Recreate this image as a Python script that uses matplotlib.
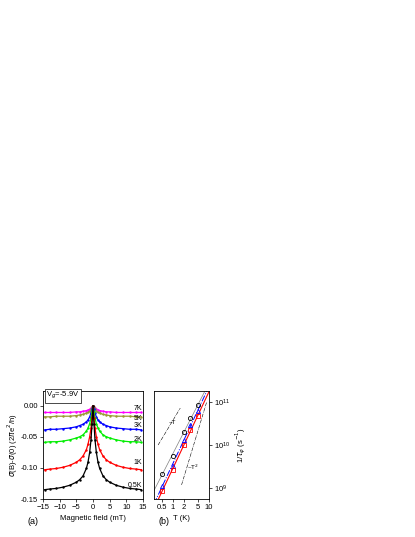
import numpy as np
import matplotlib
matplotlib.use("Agg")
import matplotlib.pyplot as plt
plt.rcParams['font.family'] = ['Liberation Sans', 'DejaVu Sans']
plt.rcParams['font.size'] = 5.5

B_half = [0, 0.3, 0.6, 1, 1.5, 2, 3, 4, 5, 7, 9, 11, 13, 14.5]
curves = {
    '7K':   ([0, -0.002, -0.004, -0.006, -0.007, -0.008, -0.009, -0.010, -0.010, -0.011, -0.011, -0.011, -0.011, -0.011], '#ff00ff'),
    '5K':   ([0, -0.003, -0.006, -0.009, -0.011, -0.012, -0.014, -0.015, -0.016, -0.017, -0.017, -0.017, -0.018, -0.018], '#999933'),
    '3K':   ([0, -0.006, -0.012, -0.018, -0.023, -0.026, -0.030, -0.032, -0.034, -0.036, -0.037, -0.038, -0.038, -0.039], '#0000ff'),
    '2K':   ([0, -0.010, -0.020, -0.029, -0.036, -0.041, -0.047, -0.050, -0.052, -0.055, -0.057, -0.058, -0.058, -0.059], '#00ee00'),
    '1K':   ([0, -0.020, -0.036, -0.050, -0.062, -0.071, -0.081, -0.087, -0.091, -0.096, -0.099, -0.101, -0.102, -0.103], '#ff0000'),
    '0.5K': ([0, -0.030, -0.055, -0.075, -0.091, -0.101, -0.113, -0.119, -0.123, -0.128, -0.131, -0.133, -0.134, -0.135], '#000000'),
}
label_y = {'7K': -0.004, '5K': -0.020, '3K': -0.032, '2K': -0.054, '1K': -0.091, '0.5K': -0.128}

T = [0.5, 1, 2, 3, 5]
rate_black = [10**9.33, 10**9.74, 10**10.31, 10**10.62, 10**10.93]
rate_blue = [10**9.05, 10**9.51, 10**10.12, 10**10.47, 10**10.80]
rate_red = [10**8.93, 10**9.42, 10**10.0, 10**10.35, 10**10.68]
guide_T_x = [0.39, 1.6]
guide_T_y = [10**10.0, 10**10.86]
guide_T2_x = [1.74, 8.6]
guide_T2_y = [10**9.07, 10**11.0]

fig = plt.figure(figsize=(4.15, 5.37), dpi=100)
W, H = 415, 537
ax1 = fig.add_axes([43/W, 1-499/H, 100/W, 108/H])
ax2 = fig.add_axes([154/W, 1-499/H, 55/W, 108/H])

Bfull = np.array([-b for b in B_half[::-1]] + B_half[1:])
for name, (vals, c) in curves.items():
    v = np.array(vals[::-1] + vals[1:])
    ax1.plot(Bfull, v, color=c, lw=0.9, marker='.', ms=1.5)
    ax1.text(14.8, label_y[name], name, ha='right', va='center', fontsize=5)
ax1.set_xlim(-15, 15)
ax1.set_ylim(-0.15, 0.0235)
ax1.set_xticks([-15, -10, -5, 0, 5, 10, 15])
ax1.set_yticks([0.0, -0.05, -0.10, -0.15])
ax1.set_yticklabels(['0.00', '-0.05', '-0.10', '-0.15'])
ax1.set_xlabel('Magnetic field (mT)', labelpad=3)
ax1.set_ylabel(r'$\sigma$(B)-$\sigma$(0) (2$\pi$e$^2$/h)', labelpad=1)
ax1.text(-14, 0.016, r'V$_g$=-5.9V', fontsize=5.5, va='center',
         bbox=dict(boxstyle='square,pad=0.2', fc='white', ec='black', lw=0.5))
ax1.tick_params(length=2, width=0.5, pad=1.5)
fig.text(27/W, 1-521/H, '(a)', fontsize=6.5, va='center')

ax2.set_xscale('log')
ax2.set_yscale('log')
Tl = np.array([0.3, 10])
def fit(x, y):
    p = np.polyfit(np.log10(x), np.log10(y), 1)
    return 10**np.polyval(p, np.log10(Tl))
ax2.plot(Tl, fit(T, rate_black), color='gray', lw=0.5)
ax2.plot(Tl, fit(T, rate_blue), color='blue', lw=0.7, ls='-.')
ax2.plot(Tl, fit(T, rate_red), color='red', lw=0.8)
ax2.plot(T, rate_black, 'o', mfc='none', mec='black', ms=3, mew=0.6)
ax2.plot(T, rate_blue, '^', mfc='none', mec='blue', ms=3, mew=0.6)
ax2.plot(T, rate_red, 's', mfc='none', mec='red', ms=3, mew=0.6)
ax2.plot(guide_T_x, guide_T_y, 'k-.', lw=0.4)
ax2.plot(guide_T2_x, guide_T2_y, 'k-.', lw=0.4)
ax2.text(0.75, 10**10.5, r'~T', fontsize=4.5)
ax2.text(2.4, 10**9.42, r'~T$^2$', fontsize=4.5)
ax2.set_xlim(0.3, 10)
ax2.set_ylim(10**8.74, 10**11.26)
ax2.set_xticks([0.5, 1, 2, 5, 10])
ax2.set_xticklabels(['0.5', '1', '2', '5', '10'])
ax2.set_yticks([1e9, 1e10, 1e11])
ax2.yaxis.set_minor_locator(matplotlib.ticker.NullLocator())
ax2.xaxis.set_minor_locator(matplotlib.ticker.NullLocator())
ax2.yaxis.tick_right(); ax2.yaxis.set_label_position('right')
ax2.set_ylabel(r'1/$\tau_\varphi$ (s$^{-1}$)', labelpad=2)
ax2.set_xlabel('T (K)', labelpad=3)
ax2.tick_params(length=2, width=0.5, pad=1.5, which='both')
fig.text(158/W, 1-521/H, '(b)', fontsize=6.5, va='center')
for ax in (ax1, ax2):
    for s in ax.spines.values():
        s.set_linewidth(0.6)
fig.savefig('out.png', dpi=100)
